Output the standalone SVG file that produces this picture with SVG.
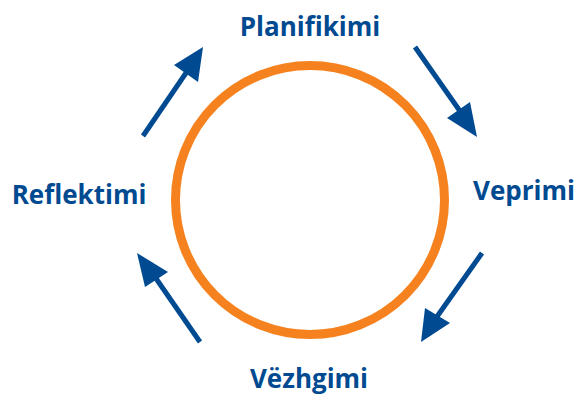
<svg xmlns="http://www.w3.org/2000/svg" width="587" height="394" viewBox="0 0 587 394">
<style>
.lbl{font-family:"Open Sans","Noto Sans","Liberation Sans",sans-serif;font-weight:bold;font-size:26px;fill:#004a91}
.ln{stroke:#004a91;stroke-width:5;fill:none}
.hd{fill:#004a91}
</style>
<rect width="587" height="394" fill="#fff"/>
<g id="cycle">
<circle cx="310" cy="200" r="134.5" fill="none" stroke="#f5821f" stroke-width="9"/>
</g>
<g id="planifikimi"><text class="lbl" x="310" y="36" text-anchor="middle">Planifikimi</text></g>
<g id="veprimi"><text class="lbl" x="524" y="200" text-anchor="middle">Veprimi</text></g>
<g id="vezhgimi"><text class="lbl" x="309" y="388" text-anchor="middle">Vëzhgimi</text></g>
<g id="reflektimi"><text class="lbl" x="79" y="204" text-anchor="middle">Reflektimi</text></g>
<g id="connectors">
<line class="ln" x1="143" y1="136" x2="188" y2="70"/>
<polygon class="hd" points="203,47 174,65 198,82"/>
<line class="ln" x1="415" y1="47" x2="462" y2="114"/>
<polygon class="hd" points="477,137 447,118 470,102"/>
<line class="ln" x1="482" y1="253" x2="436" y2="318"/>
<polygon class="hd" points="421,342 425,308 450,323"/>
<line class="ln" x1="200" y1="342" x2="155" y2="277"/>
<polygon class="hd" points="137,253 168,272 145,287"/>
</g>
</svg>
